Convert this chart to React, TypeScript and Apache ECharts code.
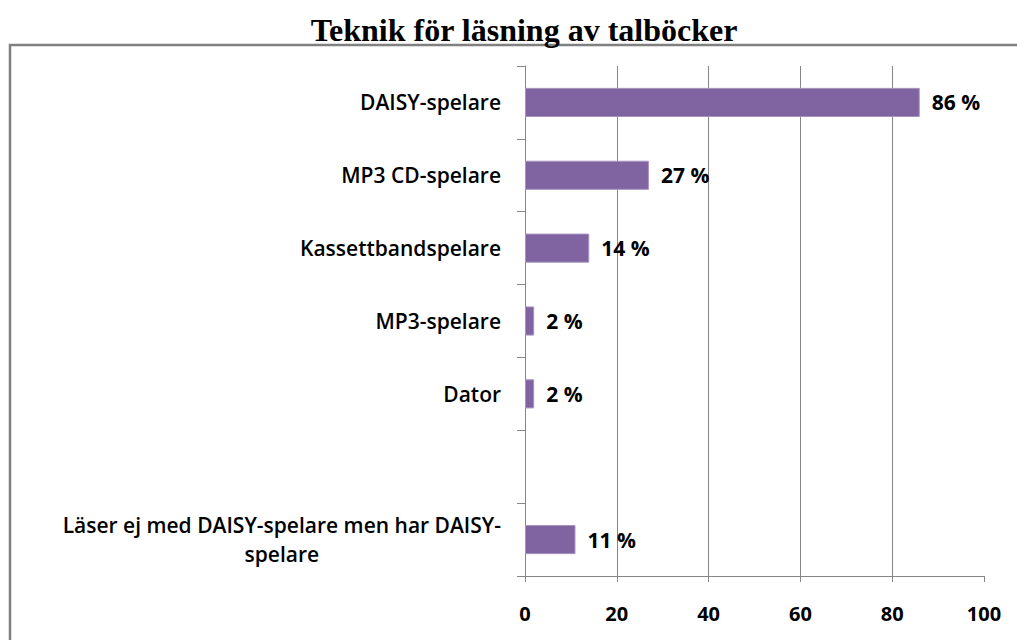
import React, { useEffect, useRef } from "react";
import * as echarts from "echarts";

const titleText = "Teknik för läsning av talböcker";
const categories = [
  "DAISY-spelare",
  "MP3 CD-spelare",
  "Kassettbandspelare",
  "MP3-spelare",
  "Dator",
  "",
  "Läser ej med DAISY-spelare men har DAISY-\nspelare",
];
const values: (number | null)[] = [86, 27, 14, 2, 2, null, 11];
const xTicks = { min: 0, max: 100, interval: 20 };

export default function App() {
  const ref = useRef<HTMLDivElement>(null);
  useEffect(() => {
    if (!ref.current) return;
    const chart = echarts.init(ref.current, null, { renderer: "svg" });
    chart.setOption({
      animation: false,
      backgroundColor: "#ffffff",
      title: {
        text: titleText,
        left: 519,
        textAlign: "center",
        top: 9,
        textStyle: {
          fontFamily: "Liberation Serif",
          fontWeight: "bold",
          fontSize: 32,
          color: "#000",
        },
      },
      graphic: [
        {
          type: "rect",
          shape: { x: 10, y: 45, width: 1100, height: 700 },
          style: { fill: "none", stroke: "#808080", lineWidth: 2.5 },
          silent: true,
        },
      ],
      grid: { left: 525, right: 33, top: 66, bottom: 64 },
      xAxis: {
        type: "value",
        min: xTicks.min,
        max: xTicks.max,
        interval: xTicks.interval,
        axisLine: { show: true, lineStyle: { color: "#868686", width: 1 } },
        axisTick: { show: true, length: 6, lineStyle: { color: "#868686" } },
        splitLine: {
          show: true,
          showMinLine: false,
          showMaxLine: false,
          lineStyle: { color: "#868686", width: 1 },
        },
        axisLabel: {
          margin: 27,
          fontFamily: "Open Sans",
          fontWeight: "bold",
          fontSize: 20,
          color: "#000",
        },
      },
      yAxis: {
        type: "category",
        inverse: true,
        data: categories,
        axisLine: { show: true, lineStyle: { color: "#868686", width: 1 } },
        axisTick: { show: true, length: 8, lineStyle: { color: "#868686" } },
        splitLine: { show: false },
        axisLabel: {
          margin: 24,
          fontFamily: "Open Sans",
          fontWeight: 600,
          fontSize: 22,
          color: "#000",
          formatter: (v: string) =>
            v
              .split("\n")
              .map((s) => "{c|" + s + "}")
              .join("\n"),
          rich: {
            c: {
              align: "center",
              fontFamily: "Open Sans",
              fontWeight: 600,
              fontSize: 21,
              lineHeight: 29,
              color: "#000",
            },
          },
        },
      },
      series: [
        {
          type: "bar",
          data: values,
          barWidth: "40%",
          itemStyle: {
            color: "#8064A2",
            borderColor: "#A795C0",
            borderWidth: 1,
          },
          label: {
            show: true,
            position: "right",
            distance: 12,
            formatter: (p: any) => (p.value == null ? "" : p.value + " %"),
            fontFamily: "Open Sans",
            fontWeight: "bold",
            fontSize: 21,
            color: "#000",
          },
        },
      ],
    });
    return () => chart.dispose();
  }, []);
  return (
    <div
      ref={ref}
      style={{ position: "fixed", left: 0, top: 0, width: 1017, height: 640 }}
    />
  );
}
